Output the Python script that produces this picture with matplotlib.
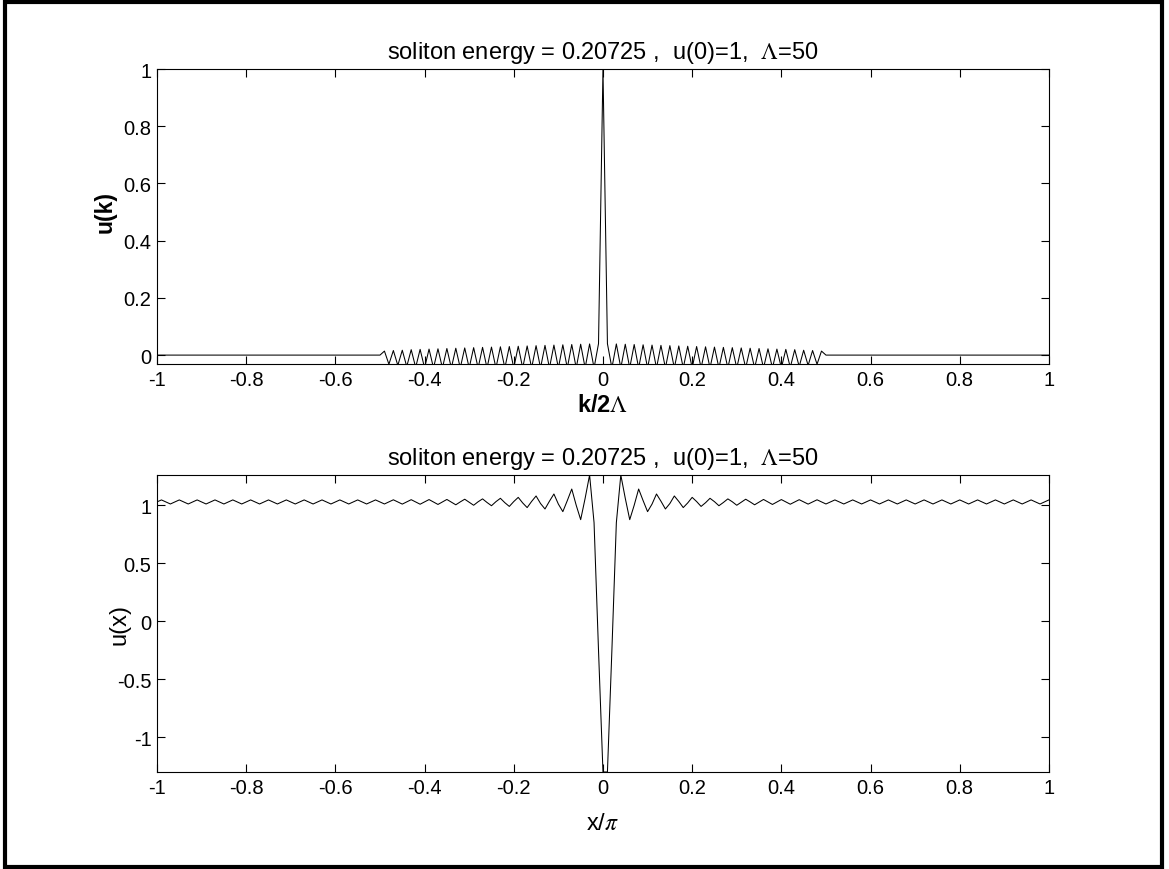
import numpy as np
import matplotlib
matplotlib.use("Agg")
import matplotlib.pyplot as plt
from matplotlib.patches import Rectangle

plt.rcParams['font.family'] = ['Liberation Sans', 'DejaVu Sans']
plt.rcParams['mathtext.fontset'] = 'stix'

title_txt = r'soliton energy = 0.20725 ,  u(0)=1,  $\Lambda$=50'

# u(k) for k/2Lambda = 0.01 ... 1.00 (mirrored for negative k), u(0) = 1
uk_pos = [0.040, -0.045, 0.039, -0.045, 0.038, -0.045, 0.037, -0.045, 0.036, -0.045,
          0.035, -0.045, 0.034, -0.045, 0.033, -0.045, 0.032, -0.045, 0.031, -0.045,
          0.030, -0.045, 0.029, -0.045, 0.028, -0.045, 0.027, -0.045, 0.026, -0.045,
          0.025, -0.045, 0.024, -0.045, 0.023, -0.045, 0.022, -0.045, 0.021, -0.045,
          0.020, -0.043, 0.019, -0.040, 0.017, -0.036, 0.016, -0.032, 0.014] + [0.0] * 51
uk_0 = 1.0

# u(x), symmetric about x/pi = 0.005 ; index d counts samples outward from the minimum
ux_half = [-1.299, -0.25, 0.85, 1.261,
           1.06, 0.876, 1.0, 1.14,
           1.04, 0.945, 1.01, 1.097,
           1.035, 0.968, 1.015, 1.08,
           1.033, 0.98, 1.02, 1.068,
           1.032, 0.99, 1.022, 1.06,
           1.031, 0.996, 1.024, 1.055,
           1.03, 1.0, 1.026, 1.052,
           1.029, 1.004, 1.027, 1.05,
           1.029, 1.007, 1.028, 1.049,
           1.029, 1.009, 1.028, 1.048,
           1.029, 1.010, 1.028, 1.047,
           1.029, 1.011, 1.028, 1.046,
           1.029, 1.011, 1.028, 1.046,
           1.029, 1.011, 1.028, 1.046,
           1.029, 1.011, 1.028, 1.046,
           1.029, 1.011, 1.028, 1.046,
           1.029, 1.011, 1.028, 1.046,
           1.029, 1.011, 1.028, 1.046,
           1.029, 1.011, 1.028, 1.046,
           1.029, 1.011, 1.028, 1.046,
           1.029, 1.011, 1.028, 1.046,
           1.029, 1.011, 1.028, 1.046,
           1.029, 1.011, 1.028, 1.046,
           1.029, 1.011, 1.028, 1.046,
           1.029]

k_axis = np.linspace(-1, 1, 201)
uk = np.array(uk_pos[::-1] + [uk_0] + uk_pos)

x_axis = np.linspace(-1, 1, 201)
ux = np.array(ux_half[::-1] + ux_half[:100])

xtick_vals = [-1, -0.8, -0.6, -0.4, -0.2, 0, 0.2, 0.4, 0.6, 0.8, 1]
xtick_txt = ['-1', '-0.8', '-0.6', '-0.4', '-0.2', '0', '0.2', '0.4', '0.6', '0.8', '1']

fig = plt.figure(figsize=(11.69, 8.70), dpi=100)

def style(ax):
    ax.tick_params(direction='in', top=True, right=True, labelsize=14.5, length=6,
                   width=0.8, pad=4)
    for s in ax.spines.values():
        s.set_linewidth(0.8)

ax1 = fig.add_axes([0.1343, 0.5805, 0.763, 0.339])
ax1.plot(k_axis, uk, color='k', lw=0.75)
ax1.set_xlim(-1, 1)
ax1.set_ylim(-0.031, 1)
ax1.set_xticks(xtick_vals)
ax1.set_xticklabels(xtick_txt)
ax1.set_yticks([0, 0.2, 0.4, 0.6, 0.8, 1])
ax1.set_yticklabels(['0', '0.2', '0.4', '0.6', '0.8', '1'])
style(ax1)
ax1.set_title(title_txt, fontsize=17, pad=8)
ax1.set_ylabel('u(k)', fontsize=16.5, fontweight='bold')
ax1.yaxis.set_label_coords(-0.045, 0.52)
ax1.set_xlabel(r'k/2$\Lambda$', fontsize=17, fontweight='bold', labelpad=3)

ax2 = fig.add_axes([0.1343, 0.1115, 0.763, 0.3414])
ax2.plot(x_axis, ux, color='k', lw=0.75)
ax2.set_xlim(-1, 1)
ax2.set_ylim(-1.299, 1.261)
ax2.set_xticks(xtick_vals)
ax2.set_xticklabels(xtick_txt)
ax2.set_yticks([-1, -0.5, 0, 0.5, 1])
ax2.set_yticklabels(['-1', '-0.5', '0', '0.5', '1'])
style(ax2)
ax2.set_title(title_txt, fontsize=17, pad=8)
ax2.set_ylabel('u(x)', fontsize=17)
ax2.yaxis.set_label_coords(-0.03, 0.5)
ax2.set_xlabel(r'x/$\pi$', fontsize=17, labelpad=11)

# thick frame round the whole figure
fig.patches.append(Rectangle((5 / 1169, 2 / 870), 1157 / 1169, 865 / 870,
                             transform=fig.transFigure, fill=False,
                             edgecolor='k', linewidth=3))

fig.savefig('out.png', dpi=100)
